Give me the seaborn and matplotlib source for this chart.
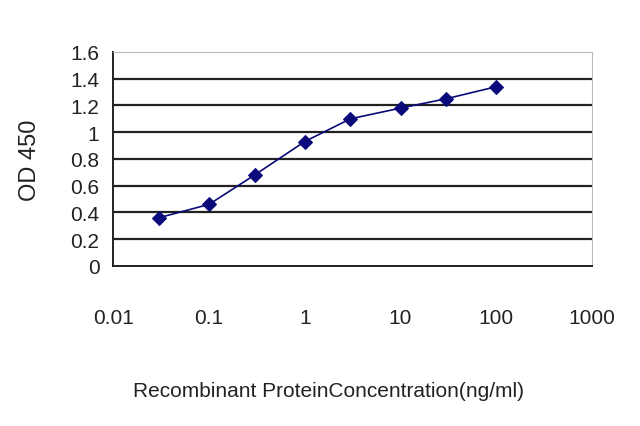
import matplotlib
matplotlib.use("Agg")
import matplotlib.pyplot as plt
import numpy as np
import pandas as pd
import seaborn as sns
from matplotlib.ticker import FixedLocator, FixedFormatter, NullLocator

concentration = [0.03, 0.1, 0.3, 1, 3, 10, 30, 100]
od450 = [0.36, 0.46, 0.68, 0.93, 1.10, 1.18, 1.25, 1.34]
x_ticks = [0.01, 0.1, 1, 10, 100, 1000]
x_tick_labels = ["0.01", "0.1", "1", "10", "100", "1000"]
y_ticks = [0, 0.2, 0.4, 0.6, 0.8, 1.0, 1.2, 1.4, 1.6]
y_tick_labels = ["0", "0.2", "0.4", "0.6", "0.8", "1", "1.2", "1.4", "1.6"]

sns.set_style("white")
plt.rcParams["font.family"] = ["Liberation Sans", "DejaVu Sans"]

data = pd.DataFrame({"conc": concentration, "od": od450})

fig = plt.figure(figsize=(6.4, 4.27), dpi=100)
ax = fig.add_axes([0.177, 0.375, 0.748, 0.501])

# horizontal grid lines
for y in y_ticks[1:-1]:
    ax.axhline(y, color="#222222", lw=1.6, zorder=1)

sns.lineplot(data=data, x="conc", y="od", ax=ax, color="#0a0a7a", lw=1.2,
             marker="D", markersize=7.5, markeredgecolor="#0a0a7a", zorder=3)

ax.set_xscale("log")
ax.set_xlim(0.01, 1000)
ax.set_ylim(0, 1.6)
ax.xaxis.set_major_locator(FixedLocator(x_ticks))
ax.xaxis.set_major_formatter(FixedFormatter(x_tick_labels))
ax.xaxis.set_minor_locator(NullLocator())
ax.set_yticks(y_ticks)
ax.set_yticklabels(y_tick_labels)

ax.tick_params(axis="x", direction="in", length=4, width=1, pad=30, labelsize=15, colors="#333333")
ax.tick_params(axis="y", direction="out", length=4, width=1, pad=6, labelsize=15, colors="#333333")
for lbl in ax.get_xticklabels() + ax.get_yticklabels():
    lbl.set_color("#222222")

ax.spines["left"].set_color("#222222")
ax.spines["bottom"].set_color("#222222")
ax.spines["left"].set_linewidth(1.4)
ax.spines["bottom"].set_linewidth(1.4)
ax.spines["top"].set_color("#bbbbbb")
ax.spines["right"].set_color("#bbbbbb")

ax.set_xlabel("Recombinant ProteinConcentration(ng/ml)", fontsize=15, color="#222222")
ax.xaxis.set_label_coords(0.449, -0.54)
ax.set_ylabel("OD 450", fontsize=17, color="#222222")
ax.yaxis.set_label_coords(-0.15, 0.5)

plt.savefig("out.png", dpi=100)
